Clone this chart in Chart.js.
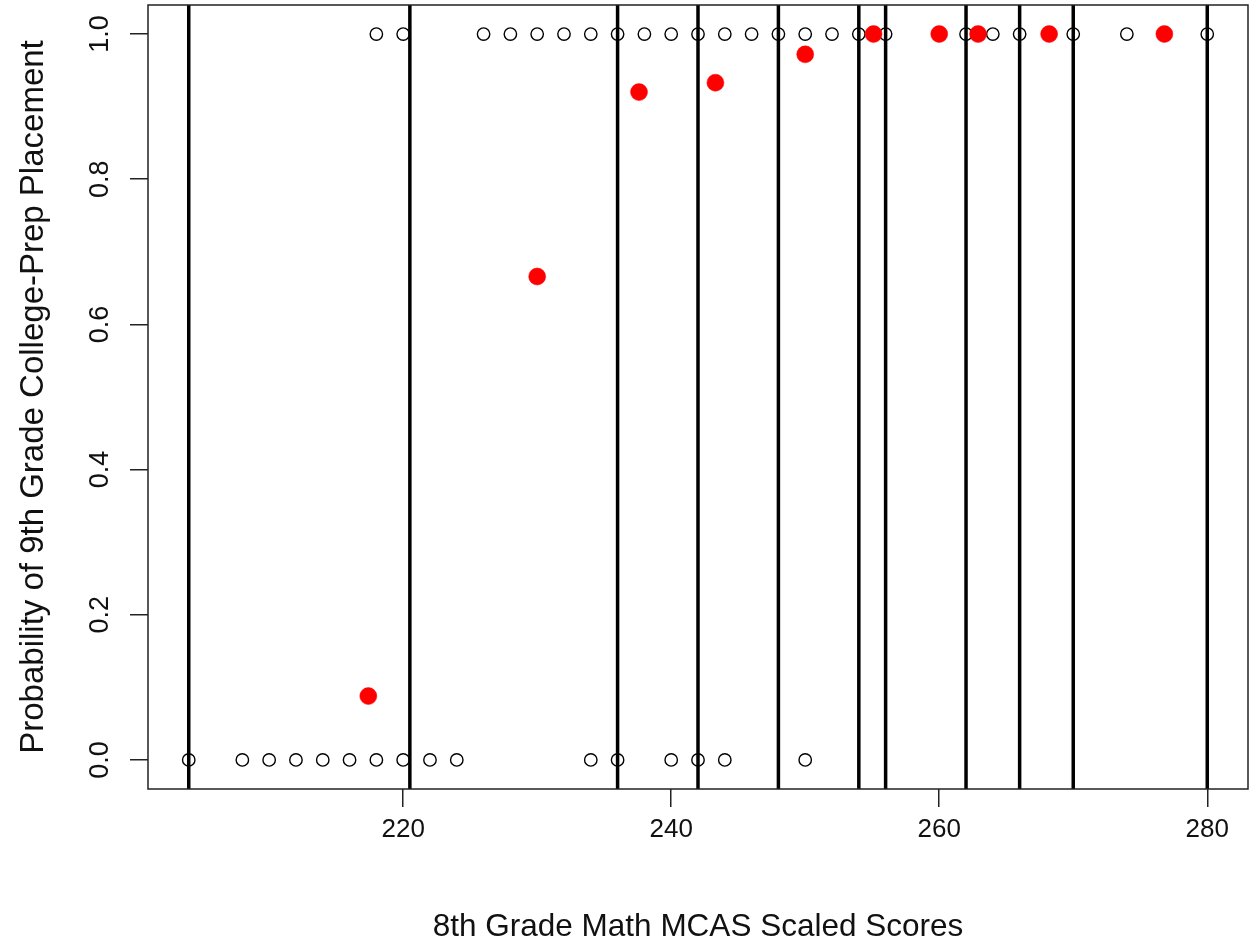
<!DOCTYPE html>
<html><head><meta charset="utf-8">
<script src="https://cdn.jsdelivr.net/npm/chart.js@4.4.1/dist/chart.umd.min.js"></script>
<style>html,body{margin:0;padding:0;background:#fff}#wrap{width:1249px;height:941px;position:relative}</style>
</head><body><div id="wrap"><canvas id="c"></canvas></div>
<script>
const xTicks = [220, 240, 260, 280];
const yTicks = [0, 0.2, 0.4, 0.6, 0.8, 1.0];
const yTickLabels = ['0.0', '0.2', '0.4', '0.6', '0.8', '1.0'];
const placedScores = [218, 220, 226, 228, 230, 232, 234, 236, 238, 240, 242, 244, 246, 248, 250, 252, 254, 256, 262, 264, 266, 270, 274, 280];
const notPlacedScores = [204, 208, 210, 212, 214, 216, 218, 220, 222, 224, 234, 236, 240, 242, 244, 250];
const binMeanScores = [217.4, 230.0, 237.6, 243.3, 250.0, 255.1, 260.0, 262.9, 268.2, 276.8];
const binProbabilities = [0.088, 0.666, 0.920, 0.933, 0.972, 1, 1, 1, 1, 1];
const binCutoffs = [204, 220.5, 236, 242, 248, 254, 256, 262, 266, 270, 280];
const xTitle = '8th Grade Math MCAS Scaled Scores';
const yTitle = 'Probability of 9th Grade College-Prep Placement';
const xMin = 200.96, xMax = 283.04, yMin = -0.04, yMax = 1.04;

const FONT = "'Liberation Sans', Arial, sans-serif";

const datasets = [];
datasets.push({
  label: 'bin means',
  data: binMeanScores.map((x, i) => ({x: x, y: binProbabilities[i]})),
  pointRadius: 8.5, pointBackgroundColor: '#ff0000', pointBorderColor: '#ff0000', pointBorderWidth: 0.5,
  showLine: false, order: 0
});
binCutoffs.forEach(v => datasets.push({
  label: 'cut',
  data: [{x: v, y: yMin}, {x: v, y: yMax}],
  showLine: true, borderColor: '#000', borderWidth: 3.5, pointRadius: 0, order: 1
}));
datasets.push({
  label: 'students',
  data: placedScores.map(x => ({x: x, y: 1})).concat(notPlacedScores.map(x => ({x: x, y: 0}))),
  pointRadius: 6.2, pointBorderColor: '#000', pointBorderWidth: 1.4, pointBackgroundColor: 'rgba(0,0,0,0)',
  showLine: false, order: 2
});

const frame = {
  id: 'frame',
  afterDatasetsDraw(chart) {
    const a = chart.chartArea, ctx = chart.ctx;
    ctx.save();
    ctx.strokeStyle = '#222'; ctx.lineWidth = 1.5;
    ctx.strokeRect(a.left, a.top, a.right - a.left, a.bottom - a.top);
    ctx.restore();
  }
};

new Chart(document.getElementById('c'), {
  type: 'scatter',
  data: {datasets: datasets},
  plugins: [frame],
  options: {
    responsive: true, maintainAspectRatio: false, animation: false,
    layout: {autoPadding: false, padding: {left: 0, top: 5, right: 1, bottom: 0}},
    plugins: {legend: {display: false}, tooltip: {enabled: false}},
    scales: {
      x: {
        type: 'linear', min: xMin, max: xMax,
        afterBuildTicks: s => { s.ticks = xTicks.map(v => ({value: v})); },
        afterFit: s => { s.height = 152; s.paddingLeft = 0; s.paddingRight = 0; },
        border: {display: false},
        grid: {drawOnChartArea: false, drawTicks: true, tickLength: 18, tickColor: '#222', lineWidth: 1.5},
        ticks: {autoSkip: false, maxRotation: 0, color: '#111', padding: 7,
          font: {family: FONT, size: 26, lineHeight: 1.2},
          callback: v => String(v)},
        title: {display: true, text: xTitle, color: '#111', padding: 0,
          font: {family: FONT, size: 31.5, lineHeight: 0.9}}
      },
      y: {
        type: 'linear', min: yMin, max: yMax,
        afterBuildTicks: s => { s.ticks = yTicks.map(v => ({value: v})); },
        afterFit: s => { s.width = 148; s.paddingTop = 0; s.paddingBottom = 0; },
        border: {display: false},
        grid: {drawOnChartArea: false, drawTicks: true, tickLength: 18, tickColor: '#222', lineWidth: 1.5},
        ticks: {autoSkip: false, minRotation: 90, maxRotation: 90, crossAlign: 'center', color: '#111', padding: 11,
          font: {family: FONT, size: 27, lineHeight: 1.2},
          callback: v => { const i = yTicks.findIndex(t => Math.abs(t - v) < 1e-9); return i >= 0 ? yTickLabels[i] : ''; }},
        title: {display: true, text: yTitle, color: '#111', padding: {top: 17, bottom: 0},
          font: {family: FONT, size: 33, lineHeight: 1.0}}
      }
    }
  }
});
</script></body></html>
